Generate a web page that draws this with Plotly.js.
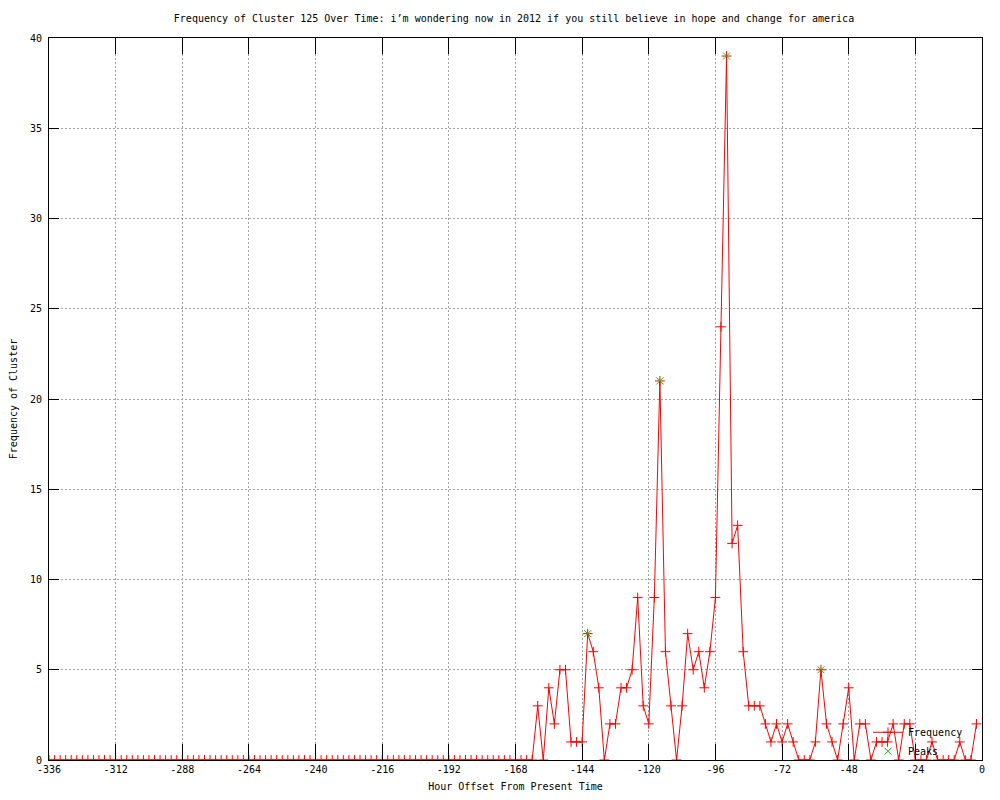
<!DOCTYPE html>
<html>
<head>
<meta charset="utf-8">
<script src="https://cdn.plot.ly/plotly-3.0.1.min.js"></script>
<style>html,body{margin:0;padding:0;background:#fff;}#chart{width:1000px;height:800px;}</style>
</head>
<body>
<div id="chart"></div>
<script>
const hours = [-336,-334,-332,-330,-328,-326,-324,-322,-320,-318,-316,-314,-312,-310,-308,-306,-304,-302,-300,-298,
-296,-294,-292,-290,-288,-286,-284,-282,-280,-278,-276,-274,-272,-270,-268,-266,-264,-262,-260,-258,
-256,-254,-252,-250,-248,-246,-244,-242,-240,-238,-236,-234,-232,-230,-228,-226,-224,-222,-220,-218,
-216,-214,-212,-210,-208,-206,-204,-202,-200,-198,-196,-194,-192,-190,-188,-186,-184,-182,-180,-178,
-176,-174,-172,-170,-168,-166,-164,-162,-160,-158,-156,-154,-152,-150,-148,-146,-144,-142,-140,-138,
-136,-134,-132,-130,-128,-126,-124,-122,-120,-118,-116,-114,-112,-110,-108,-106,-104,-102,-100,-98,
-96,-94,-92,-90,-88,-86,-84,-82,-80,-78,-76,-74,-72,-70,-68,-66,-64,-62,-60,-58,
-56,-54,-52,-50,-48,-46,-44,-42,-40,-38,-36,-34,-32,-30,-28,-26,-24,-22,-20,-18,
-16,-14,-12,-10,-8,-6,-4,-2];

const frequency = [0,0,0,0,0,0,0,0,0,0,0,0,0,0,0,0,0,0,0,0,
0,0,0,0,0,0,0,0,0,0,0,0,0,0,0,0,0,0,0,0,
0,0,0,0,0,0,0,0,0,0,0,0,0,0,0,0,0,0,0,0,
0,0,0,0,0,0,0,0,0,0,0,0,0,0,0,0,0,0,0,0,
0,0,0,0,0,0,0,0,3,0,4,2,5,5,1,1,1,7,6,4,
0,2,2,4,4,5,9,3,2,9,21,6,3,0,3,7,5,6,4,6,
9,24,39,12,13,6,3,3,3,2,1,2,1,2,1,0,0,0,1,5,
2,1,0,2,4,0,2,2,0,1,1,1,2,0,2,2,0,0,0,1,
0,0,0,0,1,0,0,2];

const peakHours = [-142, -116, -92, -58];
const peakValues = [7, 21, 39, 5];

const xTickVals = [-336,-312,-288,-264,-240,-216,-192,-168,-144,-120,-96,-72,-48,-24,0];
const xTickText = ['-336','-312','-288','-264','-240','-216','-192','-168','-144','-120','-96','-72','-48','-24','0'];
const yTickVals = [0,5,10,15,20,25,30,35,40];

const FONT = 'DejaVu Sans Mono, Liberation Mono, monospace';

const traces = [
  {
    x: hours, y: frequency, type: 'scatter', mode: 'lines+markers', name: 'Frequency',
    line: {color: '#ff0000', width: 1},
    marker: {symbol: 'cross-thin', size: 7, color: '#ff0000', line: {color: '#ff0000', width: 1}}
  },
  {
    x: peakHours, y: peakValues, type: 'scatter', mode: 'markers', name: 'Peaks',
    marker: {symbol: 'x-thin', size: 7, color: '#00c000', line: {color: '#00c000', width: 1}}
  }
];

const layout = {
  width: 1000, height: 800,
  paper_bgcolor: '#ffffff', plot_bgcolor: '#ffffff',
  margin: {l: 49, r: 18, t: 38, b: 40},
  font: {family: FONT, size: 10, color: '#000000'},
  title: {text: "Frequency of Cluster 125 Over Time: i’m wondering now in 2012 if you still believe in hope and change for america",
          font: {family: FONT, size: 10, color: '#000'}, x: 0.514, xanchor: 'center', y: 0.9775, yanchor: 'middle'},
  xaxis: {
    range: [-336, 0], tickmode: 'array', tickvals: xTickVals, ticktext: xTickText,
    showgrid: true, gridcolor: '#a0a0a0', griddash: '2px,2px', gridwidth: 1,
    zeroline: false, showline: true, linecolor: '#000', linewidth: 1, mirror: 'ticks',
    ticks: 'inside', ticklen: 16, tickcolor: '#000', tickwidth: 1,
    tickfont: {family: FONT, size: 10, color: '#000'},
    title: {text: 'Hour Offset From Present Time', font: {family: FONT, size: 10, color: '#000'}, standoff: 8}
  },
  yaxis: {
    range: [0, 40], tickmode: 'array', tickvals: yTickVals,
    showgrid: true, gridcolor: '#a0a0a0', griddash: '2px,2px', gridwidth: 1,
    zeroline: false, showline: true, linecolor: '#000', linewidth: 1, mirror: 'ticks',
    ticks: 'inside', ticklen: 10, tickcolor: '#000', tickwidth: 1,
    ticklabelstandoff: 4,
    tickfont: {family: FONT, size: 10, color: '#000'},
    title: {text: 'Frequency of Cluster', font: {family: FONT, size: 10, color: '#000'}, standoff: 10}
  },
  showlegend: true,
  legend: {x: 0.985, xanchor: 'right', y: -0.008, yanchor: 'bottom', bgcolor: 'rgba(0,0,0,0)',
           font: {family: FONT, size: 10, color: '#000'}, tracegroupgap: 0, itemwidth: 30}
};

Plotly.newPlot('chart', traces, layout, {displayModeBar: false, staticPlot: true});
</script>
</body>
</html>
